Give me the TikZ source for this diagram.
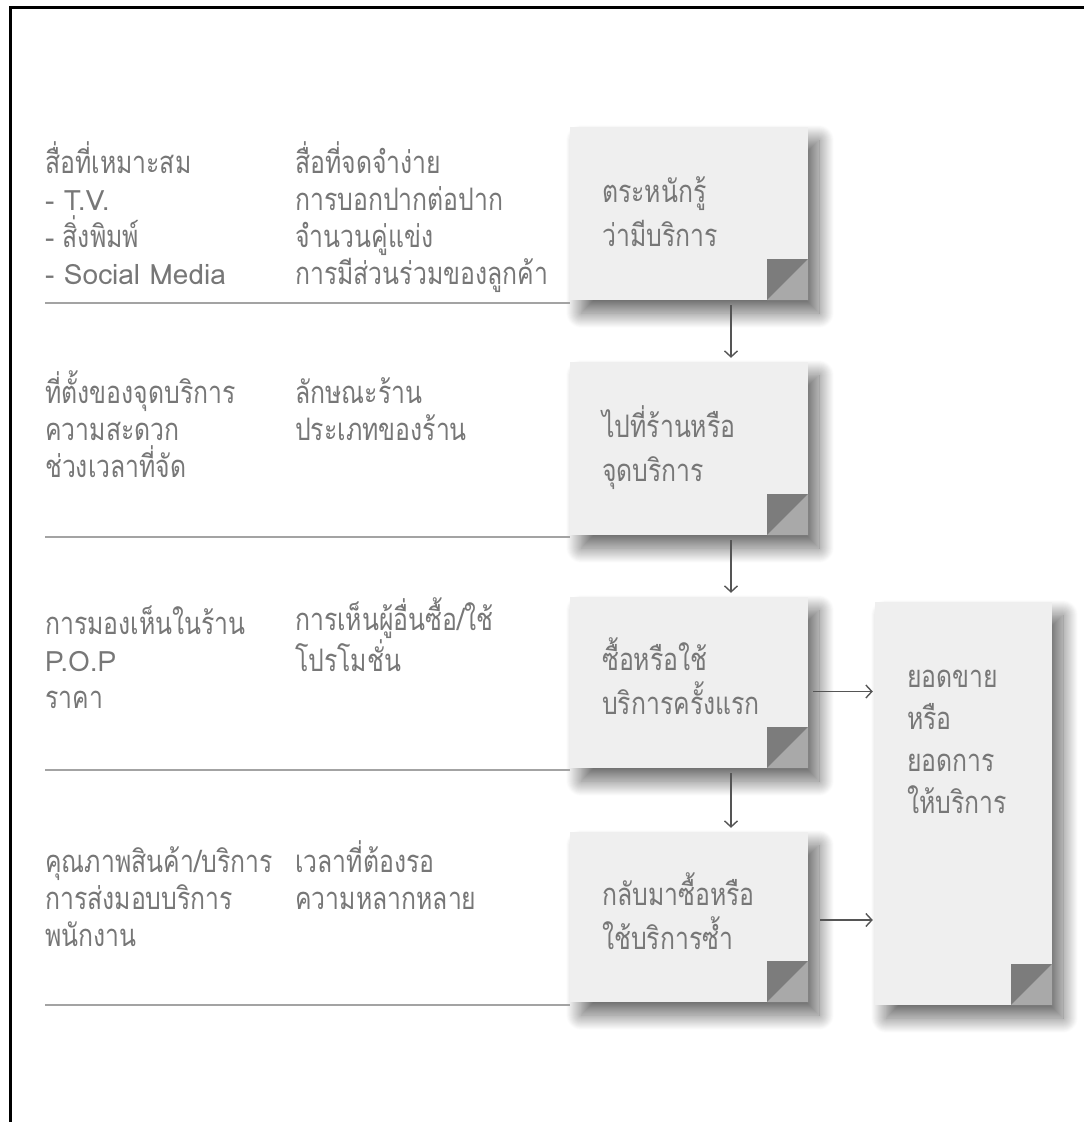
\documentclass[tikz,border=0pt]{standalone}
\usepackage{fontspec}
\newfontfamily\thai[Script=Thai,FakeStretch=0.8]{Loma}
\newfontfamily\latinface{Loma}
\newcommand\lat[1]{{\latinface\fontsize{28}{37}\selectfont #1}}
\usetikzlibrary{arrows.meta,shadows.blur}
\definecolor{notefill}{HTML}{EFEFEF}
\definecolor{foldflap}{HTML}{7C7C7C}
\definecolor{foldgap}{HTML}{A9A9A9}
\definecolor{inktext}{HTML}{777777}
\definecolor{rulegray}{HTML}{A3A3A3}
\definecolor{arrowink}{HTML}{555555}
\tikzset{
  notebox/.style={rectangle, inner sep=0pt, fill=notefill, draw=none,
    blur shadow={shadow xshift=11pt, shadow yshift=-13pt, shadow blur radius=15pt,
      shadow blur steps=30, shadow opacity=60},
    path picture={
      \fill[foldgap] (path picture bounding box.south east) -- ++(0pt,41pt) -- ++(-41pt,-41pt) -- cycle;
      \fill[foldflap] (path picture bounding box.south east) ++(-41pt,0pt) -- ++(0pt,41pt) -- ++(41pt,0pt) -- cycle;
    }},
  % base anchor of a multi-line node sits on its last line
  sidetext/.style={inner sep=0pt, align=left, anchor=base west, text=inktext,
    font=\thai\fontsize{31}{37}\selectfont},
  boxtext/.style={inner sep=0pt, align=left, anchor=base west, text=inktext,
    font=\thai\fontsize{31}{44}\selectfont},
  divider/.style={draw=rulegray, line width=2pt},
  flow/.style={draw=arrowink, line width=1.4pt, -{Straight Barb[length=6pt,width=13pt,line width=1.4pt]}}
}
\begin{document}
\begin{tikzpicture}[x=1pt,y=-1pt]
\useasboundingbox (0,0) rectangle (1084,1122);
% outer frame (left and top edges)
\draw[line width=3pt] (10,1122) -- (10,7) -- (1084,7);

% note cards
\node[notebox, minimum width=238pt, minimum height=173pt] (b1) at (689,213.5) {};
\node[notebox, minimum width=238pt, minimum height=173pt] (b2) at (689,448.5) {};
\node[notebox, minimum width=238pt, minimum height=171pt] (b3) at (689,682.5) {};
\node[notebox, minimum width=238pt, minimum height=170pt] (b4) at (689,917) {};
\node[notebox, minimum width=177pt, minimum height=403pt] (b5) at (963.5,803.5) {};

% card captions
\node[boxtext] (t1) at (602,246) {ตระหนักรู้\\ว่ามีบริการ};
\node[boxtext] (t2) at (602,481) {ไปที่ร้านหรือ\\จุดบริการ};
\node[boxtext] (t3) at (602,714) {ซื้อหรือใช้\\บริการครั้งแรก};
\node[boxtext] (t4) at (602,949) {กลับมาซื้อหรือ\\ใช้บริการซ้ำ};
\node[boxtext, font=\thai\fontsize{31}{42}\selectfont] (t5) at (907,813) {ยอดขาย\\หรือ\\ยอดการ\\ให้บริการ};

% factor lists
\node[sidetext] (l1a) at (45,284) {สื่อที่เหมาะสม\\\lat{- T.V.}\\\lat{-} สิ่งพิมพ์\\\lat{- Social Media}};
\node[sidetext] (l1b) at (295,284) {สื่อที่จดจำง่าย\\การบอกปากต่อปาก\\จำนวนคู่แข่ง\\การมีส่วนร่วมของลูกค้า};
\node[sidetext] (l2a) at (45,477) {ที่ตั้งของจุดบริการ\\ความสะดวก\\ช่วงเวลาที่จัด};
\node[sidetext] (l2b) at (295,440) {ลักษณะร้าน\\ประเภทของร้าน};
\node[sidetext] (l3a) at (45,708) {การมองเห็นในร้าน\\\lat{P.O.P}\\ราคา};
\node[sidetext] (l3b) at (295,671) {การเห็นผู้อื่นซื้อ/ใช้\\โปรโมชั่น};
\node[sidetext] (l4a) at (45,946) {คุณภาพสินค้า/บริการ\\การส่งมอบบริการ\\พนักงาน};
\node[sidetext] (l4b) at (295,909) {เวลาที่ต้องรอ\\ความหลากหลาย};

% row dividers
\coordinate (d1) at (45,303);
\coordinate (d2) at (45,537);
\coordinate (d3) at (45,770);
\coordinate (d4) at (45,1005);
\draw[divider] (d1) -- (d1 -| b1.west);
\draw[divider] (d2) -- (d2 -| b2.west);
\draw[divider] (d3) -- (d3 -| b3.west);
\draw[divider] (d4) -- (d4 -| b4.west);

% flow between cards
\draw[flow] ([xshift=42pt,yshift=-5pt]b1.south) -- ([xshift=42pt,yshift=4pt]b2.north);
\draw[flow] ([xshift=42pt,yshift=-5pt]b2.south) -- ([xshift=42pt,yshift=4pt]b3.north);
\draw[flow] ([xshift=42pt,yshift=-5pt]b3.south) -- ([xshift=42pt,yshift=4pt]b4.north);
\draw[flow] ([xshift=5pt,yshift=-9pt]b3.east) -- ([xshift=-2pt,yshift=-9pt]b3.east -| b5.west);
\draw[flow] ([xshift=12pt,yshift=-3pt]b4.east) -- ([xshift=-2pt,yshift=-3pt]b4.east -| b5.west);
\end{tikzpicture}
\end{document}
